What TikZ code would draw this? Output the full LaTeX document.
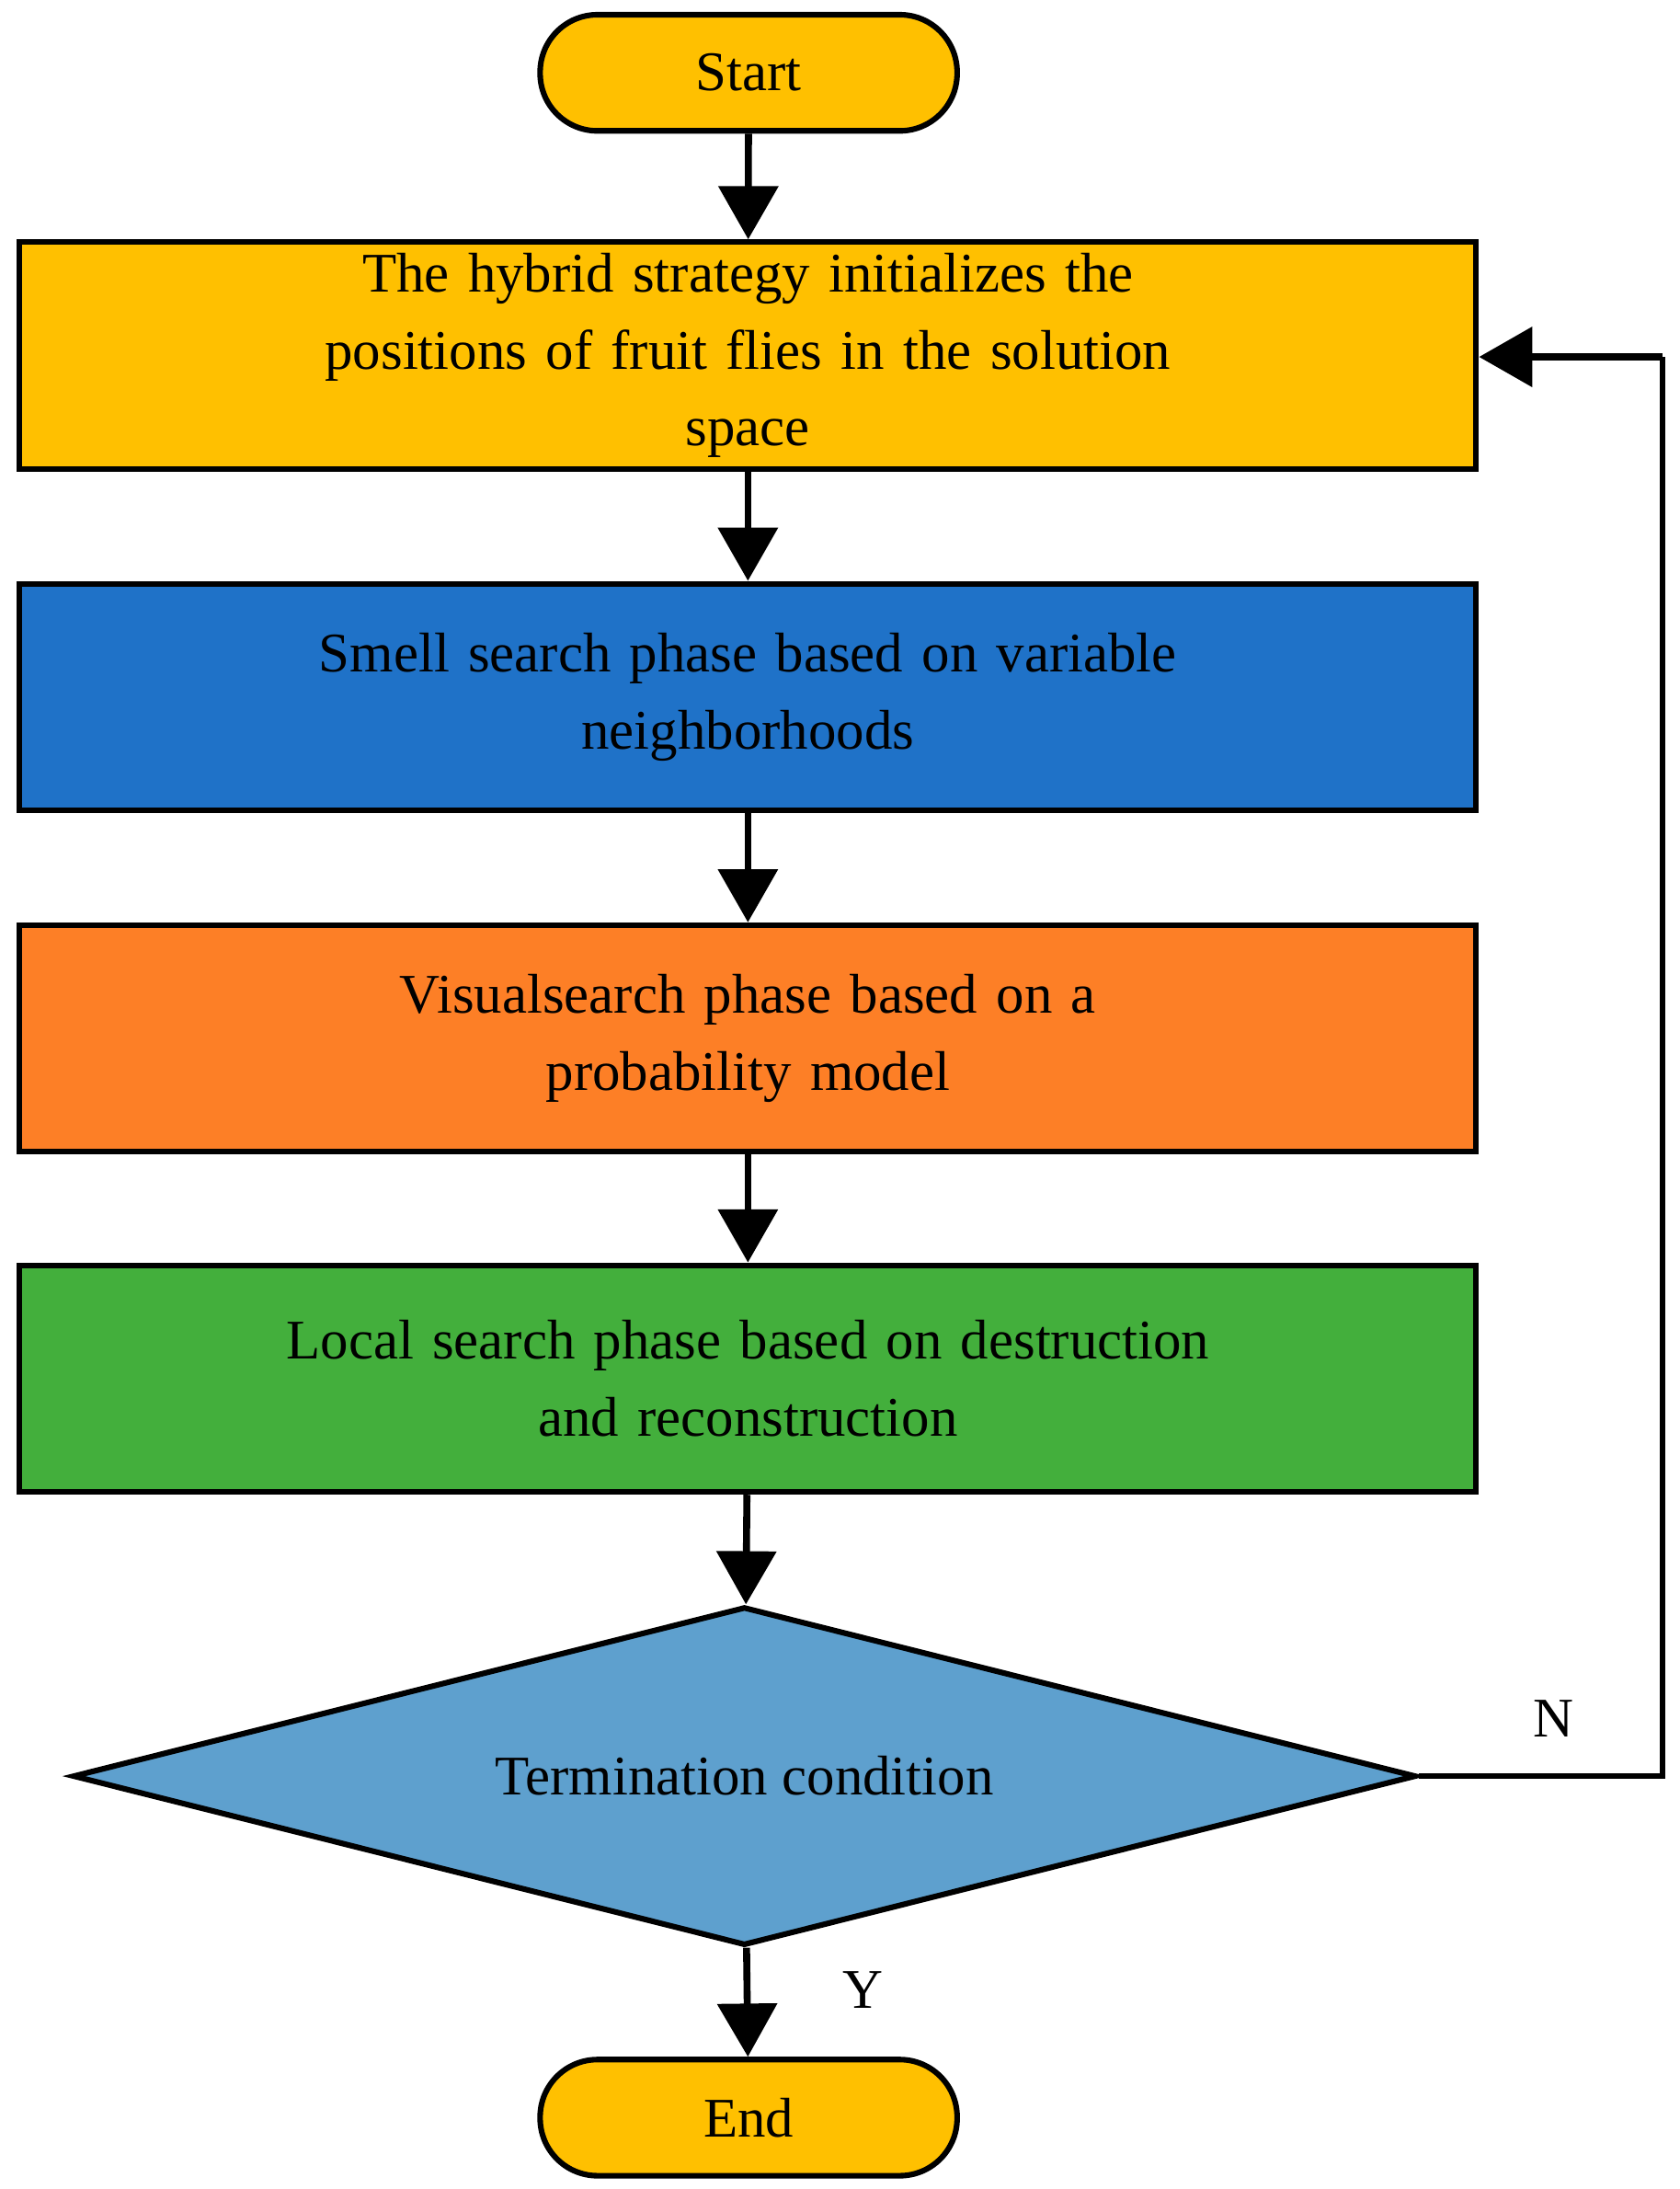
\documentclass[tikz,border=0pt]{standalone}
\usepackage{fontspec}
\setmainfont{Liberation Serif}
\usetikzlibrary{shapes.geometric,arrows.meta}
\definecolor{cy}{HTML}{FFC000}
\definecolor{cb}{HTML}{1F72C8}
\definecolor{co}{HTML}{FD7F26}
\definecolor{cg}{HTML}{43AF3C}
\definecolor{cd}{HTML}{5EA0CE}
\begin{document}
\begin{tikzpicture}[x=1pt,y=-1pt,
  every node/.style={font=\fontsize{40}{55}\selectfont},
  box/.style={draw=black,line width=4pt,minimum width=1041pt,minimum height=162pt,text width=1000pt,align=center,inner sep=0pt},
  term/.style={draw=black,line width=4pt,rounded corners=41pt,minimum width=298pt,minimum height=83pt,fill=cy},
  arr/.style={line width=5pt,-{Triangle[length=38pt,width=42pt]}}]
\useasboundingbox (0,0) rectangle (1200,1564);
\node[term] (s) at (535,52) {Start};
\node[box,fill=cy] (b1) at (534.5,254) {The hybrid strategy initializes the\\positions of fruit flies in the solution\\space};
\node[box,fill=cb] (b2) at (534.5,498) {Smell search phase based on variable\\neighborhoods};
\node[box,fill=co] (b3) at (534.5,742) {Visualsearch phase based on a\\probability model};
\node[box,fill=cg] (b4) at (534.5,985) {Local search phase based on destruction\\and reconstruction};
\node[diamond,draw=black,line width=4pt,fill=cd,minimum width=960pt,minimum height=242pt,inner sep=0pt,aspect=3.97] (d) at (532,1269) {Termination condition};
\node[term] (e) at (535,1513) {End};
\draw[arr] (s) -- (b1);
\draw[arr] (b1) -- (b2);
\draw[arr] (b2) -- (b3);
\draw[arr] (b3) -- (b4);
\draw[arr] (b4) -- (d);
\draw[arr] (d) -- (e);
\coordinate (c1) at (1188,1269);
\coordinate (c2) at (1188,255);
\draw[line width=4pt] (d.east) -- (c1) -- (c2);
\draw[arr] (c2) -- (b1.east |- c2);
\node (n) at (1110,1228) {N};
\node (y) at (617,1422) {Y};
\end{tikzpicture}
\end{document}
